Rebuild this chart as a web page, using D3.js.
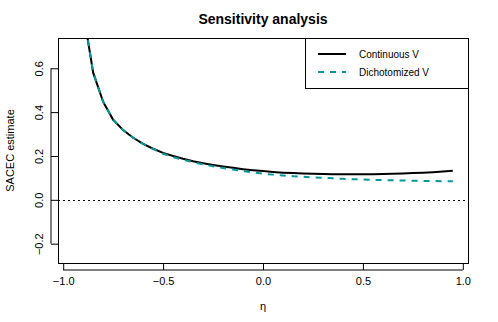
<!DOCTYPE html>
<html><head><meta charset="utf-8">
<script src="https://cdn.jsdelivr.net/npm/d3@7"></script>
<style>body{margin:0;background:#fff}svg{display:block;font-family:"Liberation Sans",Arial,sans-serif}</style>
</head><body><svg id="c" width="498" height="322"></svg>
<script>
const eta = [-0.95,-0.90,-0.85,-0.80,-0.75,-0.70,-0.65,-0.60,-0.55,-0.50,-0.45,-0.40,-0.35,-0.30,-0.25,-0.20,-0.15,-0.10,-0.05,0.00,0.05,0.10,0.15,0.20,0.25,0.30,0.35,0.40,0.45,0.50,0.55,0.60,0.65,0.70,0.75,0.80,0.85,0.90,0.95];
const continuousV = [1.60,0.86,0.58,0.447,0.365,0.318,0.283,0.255,0.233,0.214,0.200,0.187,0.176,0.167,0.159,0.152,0.146,0.140,0.135,0.131,0.127,0.124,0.122,0.120,0.119,0.118,0.117,0.117,0.117,0.117,0.117,0.118,0.119,0.120,0.122,0.124,0.126,0.129,0.133];
const dichotomizedV = [1.60,0.86,0.58,0.447,0.365,0.318,0.283,0.255,0.232,0.210,0.195,0.183,0.172,0.162,0.153,0.145,0.138,0.131,0.125,0.119,0.115,0.111,0.108,0.105,0.102,0.100,0.098,0.096,0.094,0.093,0.091,0.090,0.089,0.088,0.087,0.086,0.086,0.085,0.085];
const xTicks = [-1.0,-0.5,0.0,0.5,1.0];
const yTicks = [-0.2,0.0,0.2,0.4,0.6];
const seriesNames = ["Continuous V","Dichotomized V"];

const svg = d3.select("#c");
const L=58,R=468,T=38,B=263;
const xr=[-0.95,0.95], xp=(xr[1]-xr[0])*0.04;
const yr=[-0.25,0.70], yp=(yr[1]-yr[0])*0.04;
const x=d3.scaleLinear().domain([xr[0]-xp,xr[1]+xp]).range([L,R]);
const y=d3.scaleLinear().domain([yr[0]-yp,yr[1]+yp]).range([B,T]);
const fmt=v=>(v<0?"\u2212":"")+Math.abs(v).toFixed(1);

svg.append("defs").append("clipPath").attr("id","clip").append("rect").attr("x",L).attr("y",T).attr("width",R-L).attr("height",B-T);

// x axis
const xa=svg.append("g").attr("transform",`translate(0,${B})`).call(d3.axisBottom(x).tickValues(xTicks).tickSize(7).tickPadding(7).tickFormat(fmt));
xa.select(".domain").remove();
xa.selectAll(".tick line").attr("stroke","#000");
xa.selectAll("text").attr("font-size",11).attr("fill","#000").attr("font-family","Liberation Sans, Arial, sans-serif");
xa.append("path").attr("d",`M${x(-1)},7H${x(1)}`).attr("stroke","#000").attr("fill","none");
// y axis
const ya=svg.append("g").attr("transform",`translate(${L},0)`).call(d3.axisLeft(y).tickValues(yTicks).tickSize(7).tickFormat(fmt));
ya.select(".domain").remove();
ya.selectAll(".tick line").attr("stroke","#000");
ya.selectAll(".tick text").attr("font-size",11).attr("fill","#000").attr("font-family","Liberation Sans, Arial, sans-serif")
  .attr("x",0).attr("dy",0).attr("text-anchor","middle")
  .attr("transform","translate(-15,0) rotate(-90)");
ya.append("path").attr("d",`M-7,${y(-0.2)}V${y(0.6)}`).attr("stroke","#000").attr("fill","none");

// frame
svg.append("rect").attr("x",L+0.5).attr("y",T+0.5).attr("width",R-L).attr("height",B-T).attr("fill","none").attr("stroke","#000");

// zero line
svg.append("line").attr("x1",L).attr("x2",R).attr("y1",Math.round(y(0))+0.5).attr("y2",Math.round(y(0))+0.5)
  .attr("stroke","#000").attr("stroke-dasharray","2,3");

const line=d3.line().x((d,i)=>x(eta[i])).y(d=>y(d));
const g=svg.append("g").attr("clip-path","url(#clip)");
g.append("path").datum(continuousV).attr("d",line).attr("fill","none").attr("stroke","#000").attr("stroke-width",2);
g.append("path").datum(dichotomizedV).attr("d",line).attr("fill","none").attr("stroke","#009999").attr("stroke-width",2).attr("stroke-dasharray","6,6");

// legend
const lg=svg.append("g");
lg.append("rect").attr("x",305.5).attr("y",T+0.5).attr("width",R-305).attr("height",50).attr("fill","#fff").attr("stroke","#000");
[["#000",null],["#009999","6,6"]].forEach((s,i)=>{
  const yy=54+i*18;
  lg.append("line").attr("x1",318).attr("x2",346).attr("y1",yy).attr("y2",yy).attr("stroke",s[0]).attr("stroke-width",2).attr("stroke-dasharray",s[1]);
  lg.append("text").attr("x",359).attr("y",yy+3.5).attr("font-size",10).text(seriesNames[i]);
});

// titles
svg.append("text").attr("x",(L+R)/2).attr("y",24).attr("text-anchor","middle").attr("font-size",14).attr("font-weight","bold").text("Sensitivity analysis");
svg.append("text").attr("x",(L+R)/2).attr("y",310).attr("text-anchor","middle").attr("font-size",11).text("\u03B7");
svg.append("text").attr("transform",`translate(14,${(T+B)/2}) rotate(-90)`).attr("text-anchor","middle").attr("font-size",11).text("SACEC estimate");
</script></body></html>
